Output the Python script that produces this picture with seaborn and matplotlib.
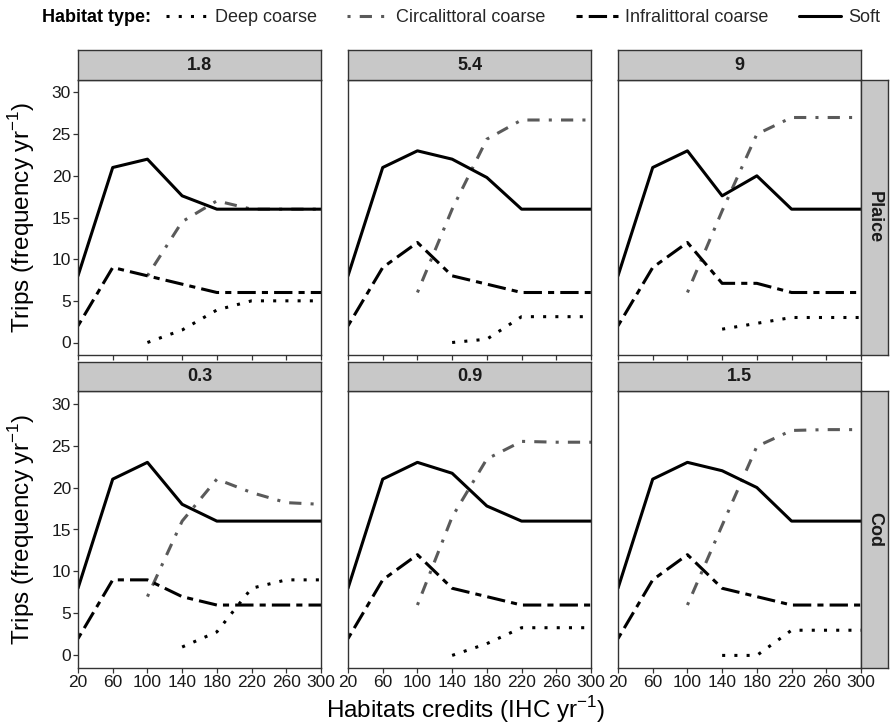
import numpy as np
import pandas as pd
import matplotlib
matplotlib.use("Agg")
import matplotlib.pyplot as plt
import seaborn as sns
from matplotlib.lines import Line2D

sns.set_theme(style="white")
plt.rcParams["font.family"] = ["Liberation Sans", "DejaVu Sans"]
plt.rcParams["mathtext.fontset"] = "custom"
plt.rcParams["mathtext.rm"] = "Liberation Sans"

# ---------------- data ----------------
credits = [20, 60, 100, 140, 180, 220, 260, 300]
habitats = ["Deep coarse", "Circalittoral coarse", "Infralittoral coarse", "Soft"]
species = ["Plaice", "Cod"]
panel_labels = {"Plaice": ["1.8", "5.4", "9"], "Cod": ["0.3", "0.9", "1.5"]}
nan = np.nan

# Plaice 1.8
p18_deep = [nan, nan, 0, 1.5, 3.9, 5, 5, 5]
p18_circ = [nan, nan, 8, 14.5, 17, 16, 16, 16]
p18_infra = [2, 9, 8, 7, 6, 6, 6, 6]
p18_soft = [8, 21, 22, 17.6, 16, 16, 16, 16]
# Plaice 5.4
p54_deep = [nan, nan, nan, 0, 0.4, 3.1, 3.1, 3.1]
p54_circ = [nan, nan, 6, 16, 24.4, 26.7, 26.7, 26.7]
p54_infra = [2, 9, 12, 8, 7, 6, 6, 6]
p54_soft = [8, 21, 23, 22, 19.8, 16, 16, 16]
# Plaice 9
p9_deep = [nan, nan, nan, 1.6, 2.3, 3, 3, 3]
p9_circ = [nan, nan, 6, 15.8, 25, 27, 27, 27]
p9_infra = [2, 9, 12, 7.1, 7.1, 6, 6, 6]
p9_soft = [8, 21, 23, 17.6, 20, 16, 16, 16]
# Cod 0.3
c03_deep = [nan, nan, nan, 1, 2.8, 8, 9, 9]
c03_circ = [nan, nan, 7, 16, 21, 19.4, 18.2, 18]
c03_infra = [2, 9, 9, 7, 6, 6, 6, 6]
c03_soft = [8, 21, 23, 18, 16, 16, 16, 16]
# Cod 0.9
c09_deep = [nan, nan, nan, 0, 1.4, 3.3, 3.3, 3.3]
c09_circ = [nan, nan, 6, 16.5, 23.4, 25.5, 25.4, 25.4]
c09_infra = [2, 9, 12, 8, 7, 6, 6, 6]
c09_soft = [8, 21, 23, 21.7, 17.8, 16, 16, 16]
# Cod 1.5
c15_deep = [nan, nan, nan, 0, 0, 3, 3, 3]
c15_circ = [nan, nan, 6, 15.5, 24.9, 26.8, 26.9, 26.9]
c15_infra = [2, 9, 12, 8, 7, 6, 6, 6]
c15_soft = [8, 21, 23, 22, 20, 16, 16, 16]

series = {
    ("Plaice", 0): [p18_deep, p18_circ, p18_infra, p18_soft],
    ("Plaice", 1): [p54_deep, p54_circ, p54_infra, p54_soft],
    ("Plaice", 2): [p9_deep, p9_circ, p9_infra, p9_soft],
    ("Cod", 0): [c03_deep, c03_circ, c03_infra, c03_soft],
    ("Cod", 1): [c09_deep, c09_circ, c09_infra, c09_soft],
    ("Cod", 2): [c15_deep, c15_circ, c15_infra, c15_soft],
}

rows = []
for (sp, j), vals in series.items():
    for hab, ys in zip(habitats, vals):
        for x, y in zip(credits, ys):
            if not np.isnan(y):
                rows.append({"species": sp, "col": j, "habitat": hab,
                             "credits": x, "trips": y})
df = pd.DataFrame(rows)

palette = {"Deep coarse": "black", "Circalittoral coarse": "#5a5a5a",
           "Infralittoral coarse": "black", "Soft": "black"}
dashes = {"Deep coarse": (1, 3), "Circalittoral coarse": (1, 3, 4, 3),
          "Infralittoral coarse": (2, 2, 6, 2), "Soft": ""}
LW = 2.2

# ---------------- layout ----------------
W, H = 890, 725
fig = plt.figure(figsize=(W / 100, H / 100), dpi=100)


def rect(l, t, w, h):
    return [l / W, 1 - (t + h) / H, w / W, h / H]


col_left = [78, 348, 618]
pw = 243
row_top = [80, 391]
row_h = [275, 277]
strip_top = [50, 362]
border = "#333333"
strip_col = "#c8c8c8"
TICK_FS = 12.5
STRIP_FS = 13
TITLE_FS = 17.5
LEG_FS = 13

for i, sp in enumerate(species):
    for j in range(3):
        ax = fig.add_axes(rect(col_left[j], row_top[i], pw, row_h[i]))
        sub = df[(df.species == sp) & (df.col == j)]
        sns.lineplot(data=sub, x="credits", y="trips", hue="habitat",
                     style="habitat", hue_order=habitats, style_order=habitats,
                     palette=palette, dashes=dashes, linewidth=LW,
                     estimator=None, legend=False, ax=ax)
        ax.set_xlim(20, 300)
        ax.set_ylim(-1.5, 31.5)
        ax.set_xticks(np.arange(20, 301, 40))
        ax.set_yticks(np.arange(0, 31, 5))
        ax.set_facecolor("white")
        for s in ax.spines.values():
            s.set_color(border)
            s.set_linewidth(1.0)
        ax.tick_params(axis="both", which="both", direction="out", length=3.6,
                       width=0.9, color=border, labelsize=TICK_FS,
                       labelcolor="#1a1a1a", pad=1.5,
                       bottom=True, left=(j == 0))
        if i == 0:
            ax.set_xticklabels([])
        if j != 0:
            ax.set_yticklabels([])
        ax.set_xlabel("")
        ax.set_ylabel("")
        ax.grid(False)

        # top strip
        sax = fig.add_axes(rect(col_left[j], strip_top[i], pw,
                                row_top[i] - strip_top[i]))
        sax.set_facecolor(strip_col)
        sax.set_xticks([])
        sax.set_yticks([])
        for s in sax.spines.values():
            s.set_color(border)
            s.set_linewidth(1.0)
        sax.text(0.5, 0.5, panel_labels[sp][j], ha="center", va="center",
                 fontsize=STRIP_FS, fontweight="bold", color="#1a1a1a",
                 transform=sax.transAxes)

    # right strip
    rax = fig.add_axes(rect(col_left[2] + pw, row_top[i], 888 - col_left[2] - pw,
                            row_h[i]))
    rax.set_facecolor(strip_col)
    rax.set_xticks([])
    rax.set_yticks([])
    for s in rax.spines.values():
        s.set_color(border)
        s.set_linewidth(1.0)
    rax.text(0.5, 0.5, sp, ha="center", va="center", rotation=-90,
             fontsize=STRIP_FS, fontweight="bold", color="#1a1a1a",
             transform=rax.transAxes)

    # y label per row
    fig.text(22 / W, 1 - (row_top[i] + row_h[i] / 2) / H,
             "Trips (frequency yr$^{\\mathregular{-1}}$)", rotation=90,
             ha="center", va="center", fontsize=TITLE_FS, color="black")

fig.text(466 / W, 1 - 710 / H, "Habitats credits (IHC yr$^{\\mathregular{-1}}$)",
         ha="center", va="center", fontsize=TITLE_FS, color="black")

# legend
fig.text(42 / W, 1 - 18 / H, "Habitat type:", ha="left", va="center",
         fontsize=LEG_FS, fontweight="bold", color="black")
handles = [Line2D([], [], color=palette[h], linewidth=LW,
                  dashes=dashes[h] if dashes[h] else (None, None))
           for h in habitats]
leg = fig.legend(handles, habitats, loc="center left",
                 bbox_to_anchor=(166 / W, 1 - 18 / H), ncol=4, frameon=False,
                 handlelength=2.3, handletextpad=0.4, columnspacing=1.7,
                 fontsize=LEG_FS, borderaxespad=0, borderpad=0)

fig.savefig("out.png", dpi=100, facecolor="white")
